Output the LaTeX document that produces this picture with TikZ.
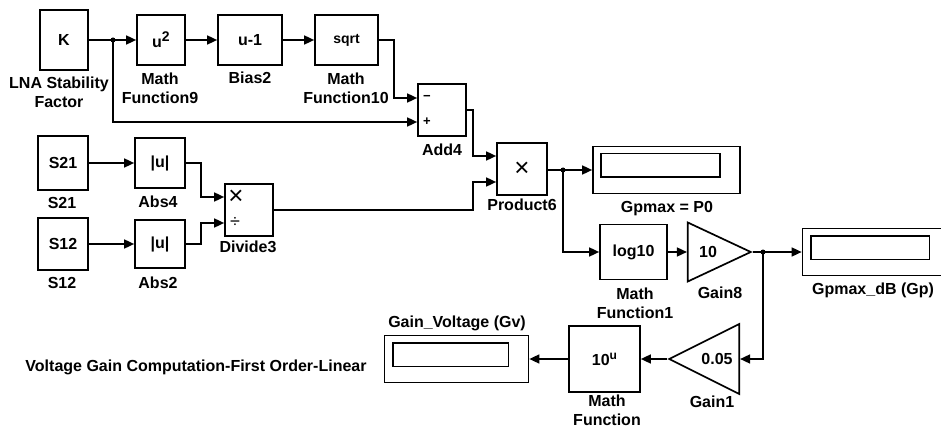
\documentclass[tikz,border=0pt]{standalone}
\usepackage{fontspec}
\setmainfont{Liberation Sans}
\usetikzlibrary{arrows.meta,shapes.geometric,calc}
\begin{document}
\begin{tikzpicture}[x=1pt,y=-1pt,
  every node/.style={font=\fontsize{16}{19}\selectfont\bfseries, inner sep=0pt},
  blk/.style={draw, line width=1.7pt, rectangle},
  disp/.style={draw, line width=1.7pt, rectangle, minimum width=147pt, minimum height=47pt},
  tri/.style={draw, line width=1.7pt, isosceles triangle, isosceles triangle stretches, inner sep=0pt},
  wire/.style={line width=1.6pt},
  arr/.style={wire, -{Triangle[length=10pt,width=9pt]}},
  lbl/.style={align=center},
  sgn/.style={font=\fontsize{13}{13}\selectfont\bfseries},
  big/.style={font=\fontsize{26}{26}\selectfont},
  dot/.style={circle, fill, minimum size=5pt}
]
\fill[white] (0,0) rectangle (941,430);
\clip (0,0) rectangle (941,430);

% blocks
\node[blk, minimum width=48pt, minimum height=60pt] (K) at (64,40) {K};
\node[blk, minimum width=48pt, minimum height=50pt] (mf9) at (161,40) {u\raisebox{6pt}{\fontsize{14}{14}\selectfont 2}};
\node[blk, minimum width=64pt, minimum height=50pt] (bias) at (250,40) {u-1};
\node[blk, minimum width=63pt, minimum height=50pt] (mf10) at (346.5,40) {\fontsize{14}{14}\selectfont sqrt};
\node[blk, minimum width=48pt, minimum height=52pt] (add) at (442,110) {};
\node[sgn] (addm) at (427,98) {−};
\node[sgn] (addp) at (427,122) {+};
\node[blk, minimum width=50pt, minimum height=52pt] (prod) at (522,169) {};
\node[big] (prodx) at (522,169) {×};
\node[blk, minimum width=50pt, minimum height=54pt] (s21) at (63,163) {S21};
\node[blk, minimum width=50pt, minimum height=50pt] (abs4) at (160,163) {|u|};
\node[blk, minimum width=48pt, minimum height=52pt] (div) at (249,210) {};
\node[big] (divx) at (236,197) {×};
\node[font=\fontsize{18}{18}\selectfont] (divd) at (235,222) {÷};
\node[blk, minimum width=50pt, minimum height=52pt] (s12) at (63,244) {S12};
\node[blk, minimum width=50pt, minimum height=48pt] (abs2) at (160,244) {|u|};
\node[disp] (d1) at (666.5,170) {};
\node[blk, minimum width=67pt, minimum height=55pt] (log) at (633.5,252) {log10};
\node[tri, minimum height=63pt, minimum width=59pt, anchor=apex] (g8) at (753,252) {};
\node (g8t) at (708,252) {10};
\node[disp] (d2) at (876,252) {};
\node[tri, shape border rotate=180, minimum height=70pt, minimum width=70pt, anchor=apex] (g1) at (667,359) {};
\node (g1t) at (717,359) {0.05};
\node[blk, minimum width=71pt, minimum height=66pt] (pow) at (604.5,359) {10\raisebox{6pt}{\fontsize{12}{12}\selectfont u}};
\node[disp, minimum width=144pt] (d3) at (456.5,359) {};

% display inner windows
\foreach \d in {d1,d2,d3}
  \draw[line width=1.7pt] ([shift={(9,8)}]\d.north west) rectangle ([shift={(-21,-17)}]\d.south east);

% labels
\node[lbl] (lK) at (59,92.5) {LNA Stability\\Factor};
\node[lbl] (lmf9) at (160,88) {Math\\Function9};
\node (lbias) at (250,78) {Bias2};
\node[lbl] (lmf10) at (346,88) {Math\\Function10};
\node (ladd) at (442,150) {Add4};
\node (lprod) at (522,205) {Product6};
\node (ls21) at (62,203) {S21};
\node (labs4) at (158,202) {Abs4};
\node (ldiv) at (248,247) {Divide3};
\node (ls12) at (62,283) {S12};
\node (labs2) at (158,283) {Abs2};
\node (ld1) at (667,209) {Gpmax = P0};
\node[lbl] (llog) at (635,303) {Math\\Function1};
\node (lg8) at (720,293) {Gain8};
\node (ld2) at (873,290) {Gpmax\_dB (Gp)};
\node (ld3) at (457,323) {Gain\_Voltage (Gv)};
\node[lbl] (lpow) at (607,410) {Math\\Function};
\node (lg1) at (712,402) {Gain1};
\node (title) at (196,367) {Voltage Gain Computation-First Order-Linear};

% branch points
\node[dot] (b0) at (113,40) {};
\node[dot] (b1) at (563,170) {};
\node[dot] (b2) at (763,252) {};
\coordinate (jx) at (473,0);

% connectors
\draw[wire] (K.east) -- (b0.center);
\draw[arr] (b0.center) -- (mf9.west);
\draw[arr] (mf9.east) -- (bias.west);
\draw[arr] (bias.east) -- (mf10.west);
\draw[arr] (mf10.east) -- ++(15,0) |- ($(add.west)+(0,-12)$);
\draw[arr] (b0.center) |- ($(add.west)+(0,12)$);
\draw[arr] (add.east) -- (add.east -| jx) |- ($(prod.west)+(0,-13)$);
\draw[arr] (div.east) -- (div.east -| jx) |- ($(prod.west)+(0,13)$);
\draw[arr] (s21.east) -- (abs4.west);
\draw[arr] (abs4.east) -- ++(15,0) |- ($(div.west)+(0,-13)$);
\draw[arr] (s12.east) -- (abs2.west);
\draw[arr] (abs2.east) -- ++(15,0) |- ($(div.west)+(0,13)$);
\draw[wire] (prod.east |- b1) -- (b1.center);
\draw[arr] (b1.center) -- (d1.west);
\draw[arr] (b1.center) |- (log.west);
\draw[arr] (log.east) -- (g8.lower side);
\draw[wire] (g8.apex) -- (b2.center);
\draw[arr] (b2.center) -- (d2.west);
\draw[arr] (b2.center) |- (g1.lower side);
\draw[arr] (g1.apex) -- (pow.east);
\draw[arr] (pow.west) -- (d3.east);
\end{tikzpicture}
\end{document}
